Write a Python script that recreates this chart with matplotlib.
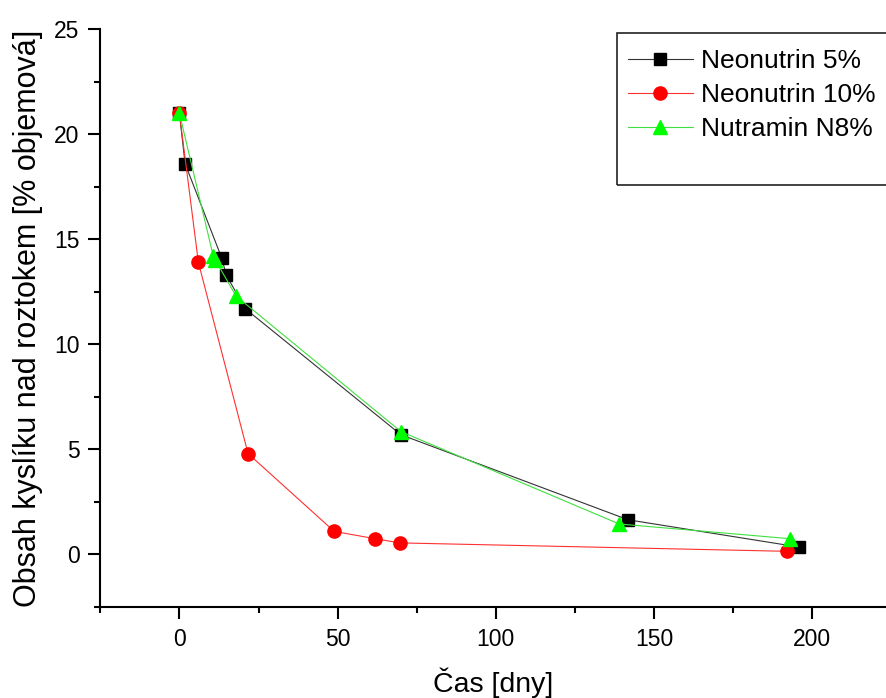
import matplotlib
matplotlib.use("Agg")
from matplotlib import pyplot as plt
from matplotlib.patches import Rectangle
from matplotlib.ticker import MultipleLocator

# data
neo5_x = [0, 1.8, 13.4, 14.8, 20.8, 70, 141.8, 195.9]
neo5_y = [21.0, 18.6, 14.1, 13.3, 11.7, 5.7, 1.65, 0.35]

neo10_x = [0, 6, 21.7, 48.9, 61.8, 69.7, 191.9]
neo10_y = [21.0, 13.9, 4.8, 1.1, 0.75, 0.55, 0.15]

nutr_x = [0, 10.7, 11.4, 17.9, 70, 139, 193]
nutr_y = [21.0, 14.2, 14.0, 12.3, 5.85, 1.45, 0.75]

labels = ["Neonutrin 5%", "Neonutrin 10%", "Nutramin N8%"]

font = {'family': 'Liberation Sans', 'size': 16.5}
matplotlib.rc('font', **font)

fig = plt.figure(figsize=(8.86, 6.98), dpi=100)
ax = fig.add_axes([0.1132, 0.1304, 0.8868, 0.8277])

ax.plot(neo5_x, neo5_y, color='#333333', lw=0.8, marker='s', ms=8,
        mfc='black', mec='black', label=labels[0])
ax.plot(neo10_x, neo10_y, color='#ff3030', lw=0.8, marker='o', ms=9.5,
        mfc='#ff0000', mec='#ff0000', label=labels[1])
ax.plot(nutr_x, nutr_y, color='#40e040', lw=0.8, marker='^', ms=10.5,
        mfc='#00ff00', mec='#00ff00', label=labels[2])

ax.set_xlim(-25, 223.3)
ax.set_ylim(-2.5, 25)
ax.xaxis.set_major_locator(MultipleLocator(50))
ax.xaxis.set_minor_locator(MultipleLocator(25))
ax.yaxis.set_major_locator(MultipleLocator(5))
ax.yaxis.set_minor_locator(MultipleLocator(2.5))

for s in ['top', 'right']:
    ax.spines[s].set_visible(False)
for s in ['left', 'bottom']:
    ax.spines[s].set_linewidth(1.5)

ax.tick_params(which='major', direction='out', length=8.5, width=1.5, pad=6.5, labelsize=16.5)
ax.tick_params(which='minor', direction='out', length=4.5, width=1.5)

ax.set_xlabel("Čas [dny]", fontsize=20.5, labelpad=12)
ax.set_ylabel("Obsah kyslíku nad roztokem [% objemová]", fontsize=22, labelpad=8)

leg = ax.legend(loc='upper left', bbox_to_anchor=(628 / 886, 1 - 49 / 698),
                bbox_transform=fig.transFigure, frameon=False, fontsize=19,
                borderpad=0, borderaxespad=0, handlelength=2.45,
                handletextpad=0.3, labelspacing=0.38)
fig.add_artist(Rectangle((617 / 886, 1 - 185 / 698), 0.4, 152 / 698,
                         transform=fig.transFigure, fill=False,
                         edgecolor='#222222', lw=1.2, clip_on=False))

plt.savefig("out.png", dpi=100)
